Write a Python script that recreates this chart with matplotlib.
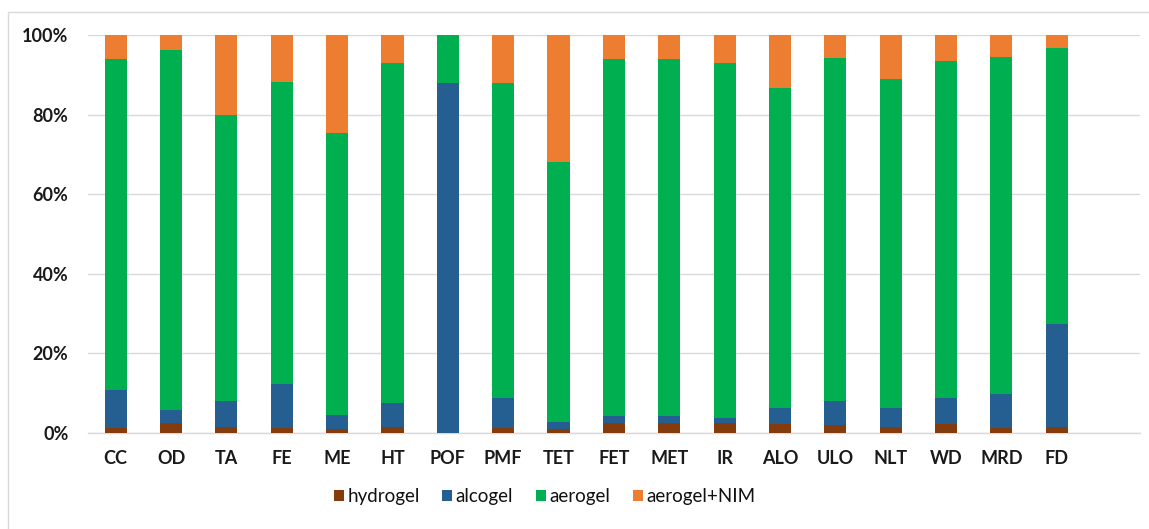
import matplotlib
matplotlib.use("Agg")
import matplotlib.pyplot as plt
import numpy as np
from matplotlib.patches import Rectangle

categories = ["CC", "OD", "TA", "FE", "ME", "HT", "POF", "PMF", "TET",
              "FET", "MET", "IR", "ALO", "ULO", "NLT", "WD", "MRD", "FD"]
hydrogel = [1.2, 2.4, 1.5, 1.3, 1.0, 1.4, 0.0, 1.3, 0.9,
            2.6, 2.6, 2.4, 2.2, 1.9, 1.6, 2.3, 1.2, 1.4]
alcogel = [9.6, 3.4, 6.5, 11.0, 3.6, 6.2, 88.0, 7.4, 1.9,
           1.6, 1.7, 1.4, 4.1, 6.2, 4.8, 6.5, 8.6, 26.0]
aerogel = [83.2, 90.5, 72.0, 75.9, 70.8, 85.4, 12.0, 79.3, 65.2,
           89.8, 89.7, 89.2, 80.4, 86.1, 82.6, 84.7, 84.7, 69.3]
aerogel_nim = [6.0, 3.7, 20.0, 11.8, 24.6, 7.0, 0.0, 12.0, 32.0,
               6.0, 6.0, 7.0, 13.3, 5.8, 11.0, 6.5, 5.5, 3.3]
series_names = ["hydrogel", "alcogel", "aerogel", "aerogel+NIM"]
yticks = [0, 20, 40, 60, 80, 100]
ytick_labels = ["0%", "20%", "40%", "60%", "80%", "100%"]

colors = ["#843C0C", "#255E91", "#00B050", "#ED7D31"]

plt.rcParams['font.family'] = ['Lato', 'DejaVu Sans']

fig = plt.figure(figsize=(11.49, 5.29), dpi=100)
ax = fig.add_axes([0.0766, 0.1815, 0.9154, 0.7523])

x = np.arange(len(categories))
bottom = np.zeros(len(categories))
handles = []
for vals, name, c in zip([hydrogel, alcogel, aerogel, aerogel_nim], series_names, colors):
    v = np.array(vals)
    b = ax.bar(x, v, 0.4, bottom=bottom, color=c, label=name, zorder=3)
    handles.append(b)
    bottom += v

ax.set_xlim(-0.5, len(categories) + 0.5)
ax.set_ylim(0, 100)
ax.set_yticks(yticks)
ax.set_yticklabels(ytick_labels, fontsize=13, fontweight='bold', color='#1a1a1a')
ax.set_xticks(x)
ax.set_xticklabels(categories, fontsize=13, fontweight='bold', color='#1a1a1a')
ax.tick_params(axis='x', length=0, pad=12)
ax.tick_params(axis='y', length=0, pad=14)
ax.grid(axis='y', color='#D9D9D9', linewidth=1, zorder=0)
for s in ['top', 'right', 'left']:
    ax.spines[s].set_visible(False)
ax.spines['bottom'].set_color('#D9D9D9')
ax.spines['bottom'].set_linewidth(1)

fig.legend(handles=handles, labels=series_names, loc='center',
           bbox_to_anchor=(0.474, 0.0605), ncol=4, frameon=False,
           fontsize=13.5, handlelength=0.53, handleheight=0.53,
           handletextpad=0.2, columnspacing=1.2,
           labelcolor='#111111')

fig.patches.append(Rectangle((0.007, -0.1), 1.2, 1.0767, transform=fig.transFigure,
                             fill=False, edgecolor='#D9D9D9', linewidth=1))

fig.savefig("out.png", dpi=100)
